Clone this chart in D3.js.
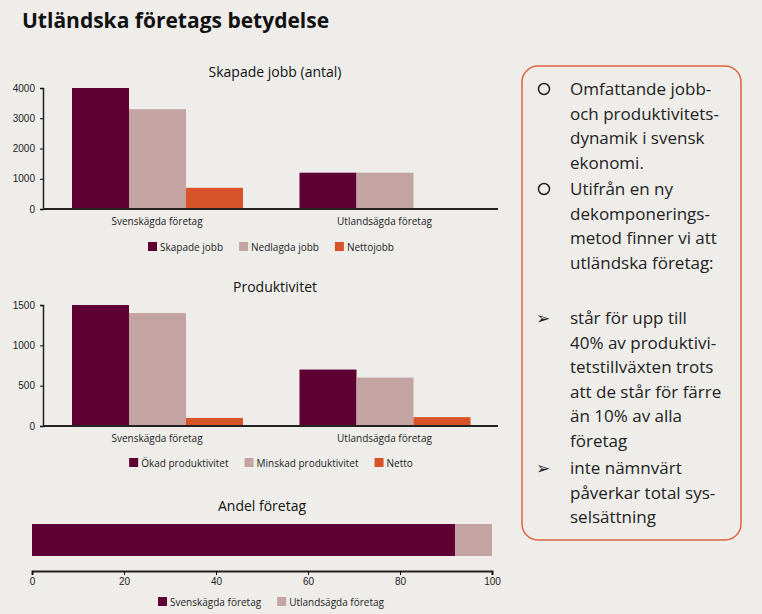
<!DOCTYPE html>
<html>
<head>
<meta charset="utf-8">
<title>Utländska företags betydelse</title>
<style>
body{margin:0;background:#efedea;}
svg{font-family:"Open Sans",sans-serif;}
</style>
</head>
<body>
<svg id="c" width="762" height="614"></svg>
<script src="https://cdn.jsdelivr.net/npm/d3@7"></script>
<script>
var groups = ["Svenskägda företag", "Utlandsägda företag"];
var jobSeries = ["Skapade jobb", "Nedlagda jobb", "Nettojobb"];
var jobValues = [[4000, 3300, 700], [1200, 1200, 0]];
var prodSeries = ["Ökad produktivitet", "Minskad produktivitet", "Netto"];
var prodValues = [[1500, 1400, 100], [700, 600, 110]];
var shareSeries = ["Svenskägda företag", "Utlandsägda företag"];
var shareValues = [92, 8];
var colors = ["#5e0033", "#c4a4a3", "#d9532a"];

var svg = d3.select("#c");
svg.append("text").attr("x", 22).attr("y", 28).style("font-size", "21px")
  .style("font-weight", "bold").style("fill", "#111").text("Utländska företags betydelse");

function legend(names, cx, y, gap) {
  var g = svg.append("g");
  var x = 0, items = [];
  names.forEach(function (n, i) {
    var it = g.append("g").attr("transform", "translate(" + x + ",0)");
    it.append("rect").attr("y", -5).attr("width", 9).attr("height", 9).attr("fill", colors[i]);
    var t = it.append("text").attr("x", 12).attr("y", 4).style("font-size", "10px").style("fill", "#222").text(n);
    x += 12 + t.node().getComputedTextLength() + gap;
  });
  g.attr("transform", "translate(" + (cx - (x - gap) / 2) + "," + y + ")");
}

function barChart(title, series, values, ticks, max, top, base, titleY, legY) {
  var x0 = d3.scaleBand().domain(groups).range([43, 498]).paddingInner(0).paddingOuter(0);
  var x1 = d3.scaleBand().domain(series).range([29, 200]);
  var y = d3.scaleLinear().domain([0, max]).range([base, top]);
  svg.append("text").attr("x", 275).attr("y", titleY).attr("text-anchor", "middle")
    .style("font-size", "14px").style("fill", "#111").text(title);
  groups.forEach(function (gname, gi) {
    series.forEach(function (s, si) {
      var v = values[gi][si];
      if (!v) return;
      svg.append("rect").attr("x", x0(gname) + x1(s)).attr("width", x1.bandwidth())
        .attr("y", y(v)).attr("height", base - y(v)).attr("fill", colors[si]);
    });
    svg.append("text").attr("x", x0(gname) + 114).attr("y", base + 16).attr("text-anchor", "middle")
      .style("font-size", "10px").style("fill", "#222").text(gname);
  });
  var ya = svg.append("g").attr("transform", "translate(43,0)")
    .call(d3.axisLeft(y).tickValues(ticks).tickSize(3).tickFormat(d3.format("d")));
  ya.selectAll("text").style("font-size", "10px").style("fill", "#222").attr("x", -8);
  ya.select(".domain").attr("stroke", "#222").attr("stroke-width", 1.5);
  svg.append("line").attr("x1", 43).attr("x2", 498).attr("y1", base).attr("y2", base)
    .attr("stroke", "#222").attr("stroke-width", 2);
  legend(series, 271, legY, 16);
}

barChart("Skapade jobb (antal)", jobSeries, jobValues, [0, 1000, 2000, 3000, 4000], 4000, 88, 209, 77, 247);
barChart("Produktivitet", prodSeries, prodValues, [0, 500, 1000, 1500], 1500, 305, 426, 292, 463);

// share chart
var xs = d3.scaleLinear().domain([0, 100]).range([32, 492]);
svg.append("text").attr("x", 262).attr("y", 511).attr("text-anchor", "middle")
  .style("font-size", "14px").style("fill", "#111").text("Andel företag");
var acc = 0;
shareValues.forEach(function (v, i) {
  svg.append("rect").attr("x", xs(acc)).attr("width", xs(acc + v) - xs(acc))
    .attr("y", 524).attr("height", 32).attr("fill", colors[i]);
  acc += v;
});
var xa = svg.append("g").attr("transform", "translate(0,571)")
  .call(d3.axisBottom(xs).tickValues([0, 20, 40, 60, 80, 100]).tickSize(4));
xa.selectAll("text").style("font-size", "10px").style("fill", "#222");
xa.select(".domain").attr("stroke", "#222").attr("stroke-width", 2);
legend(shareSeries, 271, 602, 16);

// text box
svg.append("rect").attr("x", 522).attr("y", 66).attr("width", 219).attr("height", 474)
  .attr("rx", 16).attr("fill", "none").attr("stroke", "#e0643c").attr("stroke-width", 1.5);
var bullets = [
  {m: "o", y: 95, lines: ["Omfattande jobb-", "och produktivitets-", "dynamik i svensk", "ekonomi."]},
  {m: "o", y: 195, lines: ["Utifrån en ny", "dekomponerings-", "metod finner vi att", "utländska företag:"]},
  {m: "a", y: 324, lines: ["står för upp till", "40% av produktivi-", "tetstillväxten trots", "att de står för färre", "än 10% av alla", "företag"]},
  {m: "a", y: 474, lines: ["inte nämnvärt", "påverkar total sys-", "selsättning"]}
];
bullets.forEach(function (b) {
  if (b.m === "o") {
    svg.append("circle").attr("cx", 544).attr("cy", b.y - 6).attr("r", 5.5)
      .attr("fill", "none").attr("stroke", "#222").attr("stroke-width", 1.5);
  } else {
    svg.append("text").attr("x", 536).attr("y", b.y).style("font-size", "17px").style("fill", "#222").text("➢");
  }
  b.lines.forEach(function (l, i) {
    svg.append("text").attr("x", 570).attr("y", b.y + i * 24.5).style("font-size", "17px")
      .style("fill", "#222").text(l);
  });
});
</script>
</body>
</html>
